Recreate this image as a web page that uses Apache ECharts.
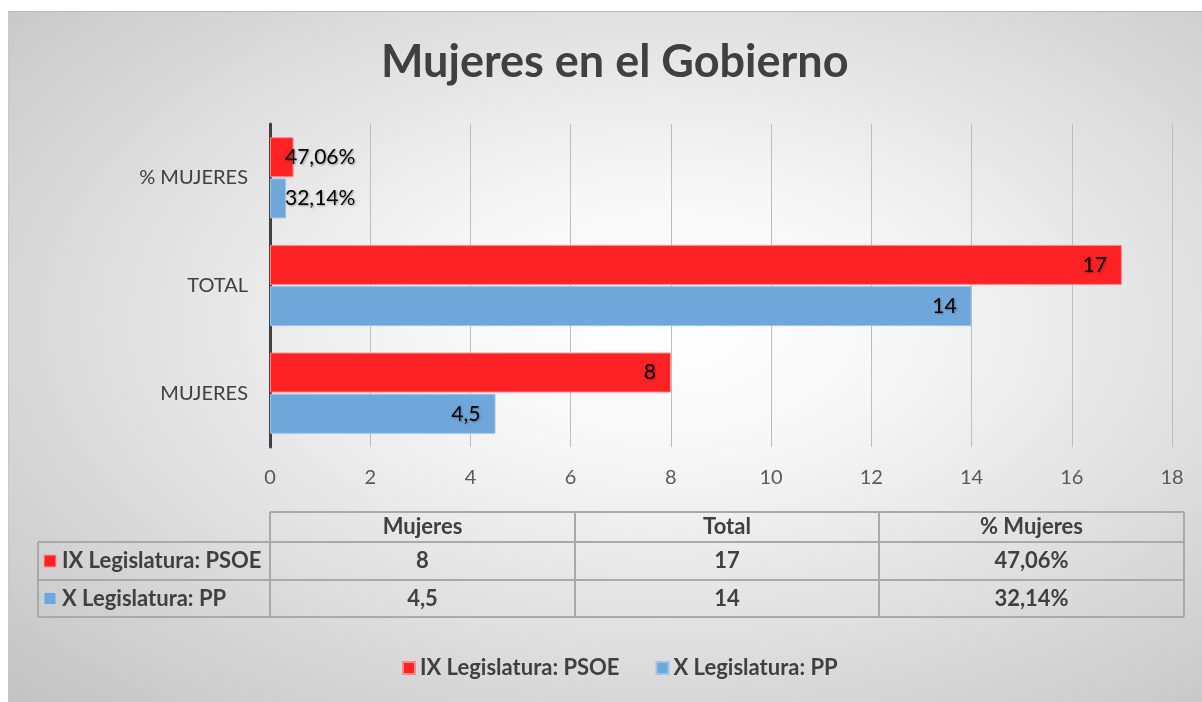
<!DOCTYPE html>
<html>
<head>
<meta charset="utf-8">
<script src="https://cdn.jsdelivr.net/npm/echarts@6/dist/echarts.min.js"></script>
<style>
  html, body { margin: 0; padding: 0; background: #fff; }
  #frame {
    position: absolute; left: 8px; top: 11px; width: 1194px; height: 691px;
    box-sizing: border-box;
    border-top: 1px solid #b8b8b8; border-left: 1px solid #c8c8c8;
    background: radial-gradient(ellipse farthest-corner at 55% 45%, #ffffff 0%, #f7f7f7 25%, #c3c3c3 100%);
  }
  #chart { position: absolute; left: 0; top: 0; width: 1202px; height: 702px; }
</style>
</head>
<body>
<div id="frame"></div>
<div id="chart"></div>
<script>
// categorias (de abajo hacia arriba) y series
const categories = ['MUJERES', 'TOTAL', '% MUJERES']
const seriesNames = ['IX Legislatura: PSOE', 'X Legislatura: PP']
const psoeValues = [8, 17, 0.4706]
const ppValues = [4.5, 14, 0.3214]
const tableHeaders = ['Mujeres', 'Total', '% Mujeres']
const seriesColors = ['#ff2225', '#6fa7da']

const FONT = 'Lato, "Open Sans", sans-serif'
const TXT = '#404040'

// formato con coma decimal, la fila de porcentaje con %
function fmt(v, i) {
	if (i === 2) return (v * 100).toFixed(2).replace('.', ',') + '%'
	return String(v).replace('.', ',')
}

function barData(values) {
	return values.map((v, i) => ({
		value: v,
		label: i === 2 ? { position: 'insideLeft', distance: 15 } : { position: 'insideRight', distance: 15 }
	}))
}

// tabla de datos bajo el eje
const colX = [270, 575, 879, 1184]
const rowY = [512, 542, 580, 617]
const tableLeft = 38
const lineColor = '#a9a9a9'

function buildTable() {
	const els = []
	const line = (x1, y1, x2, y2) => els.push({
		type: 'line', shape: { x1, y1, x2, y2 },
		style: { stroke: lineColor, lineWidth: 2 }
	})
	// horizontales
	line(colX[0], rowY[0], colX[3], rowY[0])
	for (let r = 1; r < rowY.length; r++) line(tableLeft, rowY[r], colX[3], rowY[r])
	// verticales
	line(tableLeft, rowY[1], tableLeft, rowY[3])
	colX.forEach(x => line(x, rowY[0], x, rowY[3]))

	const cellText = (text, x, y) => els.push({
		type: 'text', x, y,
		style: { text, fill: TXT, font: 'bold 22px ' + FONT, align: 'center', verticalAlign: 'middle' }
	})
	tableHeaders.forEach((h, c) => cellText(h, (colX[c] + colX[c + 1]) / 2, (rowY[0] + rowY[1]) / 2))

	const rows = [psoeValues, ppValues]
	rows.forEach((vals, r) => {
		const cy = (rowY[r + 1] + rowY[r + 2]) / 2
		els.push({
			type: 'rect', shape: { x: 44, y: cy - 6, width: 12, height: 12 },
			style: { fill: seriesColors[r], stroke: r === 0 ? '#ff9a9a' : '#b5d1ee', lineWidth: 1 }
		})
		els.push({
			type: 'text', x: 62, y: cy,
			style: { text: seriesNames[r], fill: TXT, font: 'bold 22px ' + FONT, align: 'left', verticalAlign: 'middle' }
		})
		vals.forEach((v, c) => cellText(fmt(v, c), (colX[c] + colX[c + 1]) / 2, cy))
	})
	return els
}

const labelStyle = {
	show: true, fontSize: 21, color: '#000', fontFamily: FONT,
	formatter: p => fmt(p.value, p.dataIndex),
	textShadowColor: 'rgba(0,0,0,0.35)', textShadowBlur: 2, textShadowOffsetX: 1, textShadowOffsetY: 1
}

const chart = echarts.init(document.getElementById('chart'))
const option = {
	backgroundColor: 'transparent',
	animation: false,
	textStyle: { fontFamily: FONT },
	title: {
		text: 'Mujeres en el Gobierno',
		left: 376,
		top: 35,
		textStyle: { fontFamily: FONT, fontSize: 45, fontWeight: 'bold', color: TXT }
	},
	legend: {
		data: seriesNames,
		bottom: 18,
		left: 397,
		icon: 'rect',
		itemWidth: 12,
		itemHeight: 12,
		itemGap: 36,
		textStyle: { fontFamily: FONT, fontSize: 22, fontWeight: 'bold', color: TXT }
	},
	grid: { left: 270, right: 30, top: 124, bottom: 255, containLabel: false },
	xAxis: {
		type: 'value',
		min: 0,
		max: 18,
		interval: 2,
		axisLine: { show: false },
		axisTick: { show: false },
		axisLabel: { fontSize: 20, color: '#595959', margin: 21, fontFamily: FONT },
		splitLine: { lineStyle: { color: '#bdbdbd', width: 1 } }
	},
	yAxis: {
		type: 'category',
		data: categories,
		axisLine: { lineStyle: { color: '#404040', width: 3 } },
		axisTick: { show: false },
		axisLabel: { fontSize: 20, color: TXT, margin: 22, fontFamily: FONT }
	},
	series: [
		{
			name: seriesNames[0],
			type: 'bar',
			barWidth: 40,
			barGap: '3%',
			data: barData(psoeValues),
			itemStyle: { color: seriesColors[0], borderColor: '#ff8a8a', borderWidth: 1 },
			label: labelStyle
		},
		{
			name: seriesNames[1],
			type: 'bar',
			barWidth: 40,
			barGap: '3%',
			data: barData(ppValues),
			itemStyle: { color: seriesColors[1], borderColor: '#9cc3e8', borderWidth: 1 },
			label: labelStyle
		}
	],
	graphic: buildTable()
}
chart.setOption(option)
</script>
</body>
</html>
